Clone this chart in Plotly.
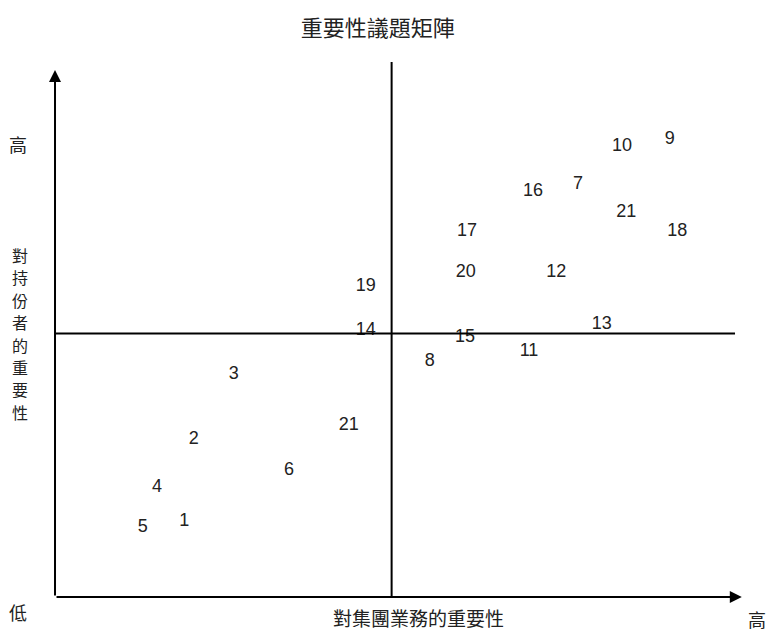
import plotly.graph_objects as go

# Issue labels and their positions on the materiality matrix (0-10 scale)
issue_labels = ["10", "9", "16", "7", "21", "17", "18", "20", "12", "19", "13",
                "14", "15", "11", "8", "3", "21", "2", "6", "4", "1", "5"]
business_importance = [8.34, 9.04, 7.03, 7.69, 8.40, 6.06, 9.15, 6.04, 7.37, 4.57, 8.04,
                       4.57, 6.03, 6.97, 5.51, 2.63, 4.32, 2.04, 3.44, 1.50, 1.90, 1.29]
stakeholder_importance = [8.54, 8.69, 7.70, 7.82, 7.29, 6.94, 6.94, 6.15, 6.15, 5.90, 5.18,
                          5.05, 4.93, 4.65, 4.46, 4.23, 3.26, 2.98, 2.41, 2.07, 1.44, 1.31]

title_text = "重要性議題矩陣"
x_title = "對集團業務的重要性"
y_title = "對持份者的重要性"
high_text = "高"
low_text = "低"
mid_x = 4.95
mid_y = 5

CJK = "Noto Sans CJK TC"

fig = go.Figure()

fig.add_trace(go.Scatter(
    x=business_importance, y=stakeholder_importance, mode="text",
    text=issue_labels,
    textfont=dict(family="Liberation Sans, Arial", size=18, color="#222222"),
    hoverinfo="skip", showlegend=False,
))

line_style = dict(color="black", width=2)
# quadrant dividers
fig.add_shape(type="line", x0=mid_x, x1=mid_x, y0=0, y1=10.15, line=line_style)
fig.add_shape(type="line", x0=0, x1=10, y0=mid_y, y1=mid_y, line=line_style)

# axes with arrows
fig.add_annotation(x=0, y=10, ax=0, ay=0, xref="x", yref="y", axref="x", ayref="y",
                   showarrow=True, arrowhead=2, arrowsize=1.2, arrowwidth=2,
                   arrowcolor="black", text="")
fig.add_annotation(x=10.1, y=0, ax=0, ay=0, xref="x", yref="y", axref="x", ayref="y",
                   showarrow=True, arrowhead=2, arrowsize=1.2, arrowwidth=2,
                   arrowcolor="black", text="")

lab_font = dict(family=CJK, size=18, color="#222222")
fig.add_annotation(x=-0.55, y=8.6, xref="x", yref="y", text=high_text,
                   showarrow=False, font=lab_font)
fig.add_annotation(x=-0.55, y=-0.28, xref="x", yref="y", text=low_text,
                   showarrow=False, font=lab_font)
fig.add_annotation(x=10.32, y=-0.42, xref="x", yref="y", text=high_text,
                   showarrow=False, font=lab_font)
fig.add_annotation(x=5.34, y=-0.39, xref="x", yref="y", text=x_title,
                   showarrow=False, font=dict(family=CJK, size=19, color="#222222"))
# vertical y-axis title, one character per line
y_top, y_step = 6.49, 0.425
for i, ch in enumerate(y_title):
    fig.add_annotation(x=-0.52, y=y_top - i * y_step, xref="x", yref="y", text=ch,
                       showarrow=False, font=dict(family=CJK, size=16, color="#222222"))

fig.update_layout(
    width=768, height=631,
    margin=dict(l=0, r=0, t=0, b=0),
    paper_bgcolor="white", plot_bgcolor="white",
    title=dict(text=title_text, x=0.492, y=0.955, xanchor="center", yanchor="middle",
               font=dict(family=CJK, size=22, color="#222222")),
    xaxis=dict(range=[-0.809, 10.485], visible=False, fixedrange=True),
    yaxis=dict(range=[-0.645, 11.328], visible=False, fixedrange=True),
)

fig.write_html("out.html", config={"displayModeBar": False},
               post_script="document.body.style.margin='0';document.body.style.overflow='hidden';")
